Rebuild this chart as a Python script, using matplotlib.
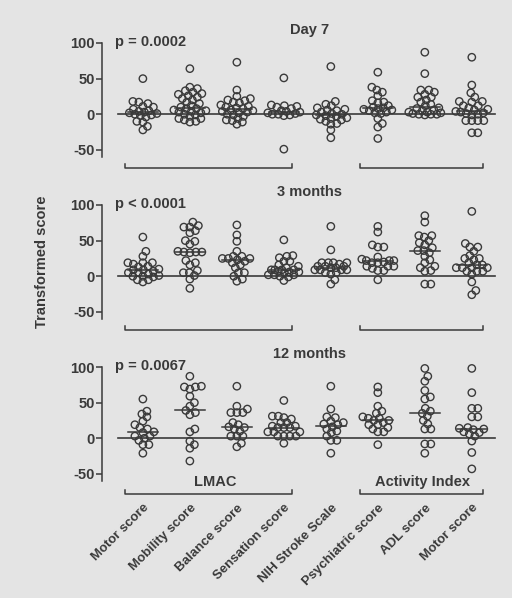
import numpy as np
import matplotlib
matplotlib.use('Agg')
import matplotlib.pyplot as plt

plt.rcParams['font.family'] = ['Liberation Sans', 'DejaVu Sans']
plt.rcParams['font.weight'] = 'bold'
plt.rcParams['axes.unicode_minus'] = False

#%% data
categories = ['Motor score', 'Mobility score', 'Balance score', 'Sensation score',
              'NIH Stroke Scale', 'Psychiatric score', 'ADL score', 'Motor score']
panel_titles = ['Day 7', '3 months', '12 months']
p_values = ['p = 0.0002', 'p < 0.0001', 'p = 0.0067']

# Day 7
d7_motor = [50, 18, 17, 15, 11, 10, 7, 5, 4, 3, 2, 1, 0, -1, -2, -4, -10, -11, -17, -22]
d7_mobility = [64, 38, 36, 33, 31, 29, 28, 26, 24, 22, 20, 17, 15, 12, 10, 8, 8, 6, 5, 4, 3, 2,
               0, -1, -3, -6, -6, -8, -11, -10]
d7_balance = [73, 34, 25, 22, 20, 19, 17, 16, 13, 11, 10, 9, 8, 6, 5, 4, 3, 2, 0, -1,
              -3, -6, -8, -9, -11, -14]
d7_sensation = [51, 13, 12, 11, 10, 8, 5, 4, 3, 2, 1, 0, 0, -1, -2, -49]
d7_nih = [67, 18, 14, 12, 9, 7, 6, 5, 3, 1, 0, -1, -2, -3, -5, -6, -7, -8, -10, -13, -14, -22, -33]
d7_psych = [59, 38, 34, 31, 26, 19, 17, 16, 12, 10, 9, 8, 7, 6, 5, 3, 2, 1, -6, -13, -18, -34]
d7_adl = [87, 57, 34, 34, 31, 28, 24, 24, 20, 17, 14, 12, 9, 8, 6, 5, 3, 3, 2, 1, 0, 0, 0, -1]
d7_ai_motor = [80, 41, 30, 24, 18, 18, 17, 12, 12, 9, 7, 6, 4, 3, 2, 1, 0, -1, -9, -9, -9, -9, -26, -26]

# 3 months
m3_motor = [55, 35, 28, 19, 19, 19, 17, 14, 13, 10, 9, 9, 7, 5, 5, 3, 1, 0, 0, -1, -5, -5, -8]
m3_mobility = [76, 71, 69, 69, 64, 61, 50, 49, 45, 35, 34, 34, 34, 33, 22, 19, 16, 8, 5, 5, 1, -4, -17]
m3_balance = [72, 58, 49, 35, 28, 28, 25, 25, 25, 23, 21, 19, 16, 12, 5, 5, 0, -4, -7]
m3_sensation = [51, 29, 28, 26, 21, 21, 16, 14, 12, 9, 9, 9, 9, 7, 6, 6, 5, 2, 2, 2, 0, -1, -6]
m3_nih = [70, 37, 19, 19, 19, 19, 17, 14, 14, 14, 12, 12, 9, 9, 9, 9, 5, 5, 3, -5, -11]
m3_psych = [70, 62, 44, 41, 41, 27, 24, 22, 22, 22, 20, 19, 19, 14, 14, 14, 11, 8, 8, -5]
m3_adl = [85, 76, 57, 57, 55, 50, 47, 44, 40, 36, 36, 33, 28, 23, 19, 14, 12, 8, 7, -11, -11]
m3_ai_motor = [91, 46, 41, 41, 35, 29, 25, 25, 23, 19, 16, 16, 12, 12, 12, 12, 7, 7, 7, 3, -8, -20, -26]

# 12 months
m12_motor = [55, 38, 34, 30, 24, 19, 15, 13, 9, 8, 3, 3, 0, -3, -9, -9, -21]
m12_mobility = [87, 73, 72, 72, 69, 59, 50, 45, 39, 36, 33, 13, 9, -4, -9, -14, -32]
m12_balance = [73, 45, 41, 36, 36, 36, 22, 19, 16, 15, 13, 10, 3, 3, 3, -7, -12]
m12_sensation = [53, 31, 31, 29, 27, 22, 22, 17, 17, 15, 15, 15, 9, 9, 9, 3, 3, 3, 3, -7]
m12_nih = [73, 41, 30, 29, 24, 22, 20, 19, 16, 13, 10, 8, 3, -3, -3, -21]
m12_psych = [72, 64, 45, 38, 35, 30, 28, 28, 25, 25, 22, 19, 19, 15, 13, 9, 9, -9]
m12_adl = [98, 87, 80, 67, 58, 55, 42, 38, 35, 31, 25, 20, 13, 13, -8, -8, -21]
m12_ai_motor = [98, 64, 42, 42, 30, 30, 15, 14, 13, 12, 9, 8, 6, 3, -4, -20, -43]

day7 = [d7_motor, d7_mobility, d7_balance, d7_sensation, d7_nih, d7_psych, d7_adl, d7_ai_motor]
month3 = [m3_motor, m3_mobility, m3_balance, m3_sensation, m3_nih, m3_psych, m3_adl, m3_ai_motor]
month12 = [m12_motor, m12_mobility, m12_balance, m12_sensation, m12_nih, m12_psych, m12_adl, m12_ai_motor]
panels = [day7, month3, month12]

#%%
bg = '#e4e4e4'
ink = '#3a3a3a'

# candidate sideways shifts (pixels): 0, +, -, ... kept inside +-16 px
steps = np.arange(0.5, 16.5, 0.5)
cand = np.concatenate([[0.0], np.ravel(np.column_stack([steps, -steps]))])


def swarm_offsets(vals, ypx, xpx, d=5.6):
    # compact beeswarm in pixel space; if nothing is free take the least crowded spot
    vals = np.asarray(vals, float)
    off = np.zeros(len(vals))
    px = []
    py = []
    for i in np.argsort(vals):
        y = vals[i] * ypx
        if px:
            dist = np.sqrt((cand[:, None] - np.array(px)[None, :]) ** 2 +
                           (y - np.array(py)[None, :]) ** 2).min(axis=1)
            free = np.where(dist >= d)[0]
            c = cand[free[0]] if len(free) else cand[np.argmax(dist)]
        else:
            c = 0.0
        px.append(c)
        py.append(y)
        off[i] = c / xpx
    return off


fig = plt.figure(figsize=(5.12, 5.98), dpi=100, facecolor=bg)
tops = [43, 205, 367]
h = 114
xmin, xmax = -0.87, 7.6
ymin, ymax = -60, 100
xpx = 398 / (xmax - xmin)
ypx = h / (ymax - ymin)
for k in range(3):
    top = tops[k]
    ax = fig.add_axes([102 / 512, 1 - (top + h) / 598, 398 / 512, h / 598])
    ax.set_facecolor('none')
    ax.set_xlim(xmin, xmax)
    ax.set_ylim(ymin, ymax)
    for s in ['top', 'right', 'bottom']:
        ax.spines[s].set_visible(False)
    ax.spines['left'].set_color(ink)
    ax.spines['left'].set_linewidth(1.1)
    ax.set_yticks([-50, 0, 50, 100])
    ax.tick_params(axis='y', colors=ink, labelsize=10.5, length=4, width=1.1, pad=1)
    for t in ax.get_yticklabels():
        t.set_fontweight('bold')
    ax.axhline(0, xmin=(-0.53 - xmin) / (xmax - xmin), xmax=(7.49 - xmin) / (xmax - xmin),
               color=ink, lw=1.2, zorder=1)

    for i, vals in enumerate(panels[k]):
        off = swarm_offsets(vals, ypx, xpx)
        ax.scatter(i + off, vals, s=28, facecolors='none', edgecolors=ink, linewidths=1.0,
                   zorder=3, clip_on=False)
        med = np.median(vals)
        ax.plot([i - 0.32, i + 0.32], [med, med], color=ink, lw=1.1, zorder=2)

    ax.text(3.55, 118, panel_titles[k], ha='center', va='center', fontsize=10.5,
            fontweight='bold', color=ink, clip_on=False)
    ax.text(-0.6, 101, p_values[k], ha='left', va='center', fontsize=10.5,
            fontweight='bold', color=ink)

    # group brackets under each panel
    by = -78 if k == 2 else -76
    for x0, x1 in [(-0.38, 3.17), (4.62, 7.23)]:
        ax.plot([x0, x0, x1, x1], [by + 6, by, by, by + 6], color=ink, lw=1.1, clip_on=False)

    if k == 2:
        ax.text(1.53, -62, 'LMAC', ha='center', va='center', fontsize=10.5,
                fontweight='bold', color=ink, clip_on=False)
        ax.text(5.95, -62, 'Activity Index', ha='center', va='center', fontsize=10.5,
                fontweight='bold', color=ink, clip_on=False)
        ax.set_xticks(range(len(categories)))
        ax.set_xticklabels(categories, rotation=45, ha='right', rotation_mode='anchor',
                           fontsize=9.5, fontweight='bold', color=ink)
        ax.tick_params(axis='x', length=0, pad=15)
    else:
        ax.set_xticks([])

fig.text(42 / 512, 1 - 262 / 598, 'Transformed score', rotation=90, ha='center', va='center',
         fontsize=10.5, fontweight='bold', color=ink)

fig.savefig('out.png', dpi=100, facecolor=bg)
